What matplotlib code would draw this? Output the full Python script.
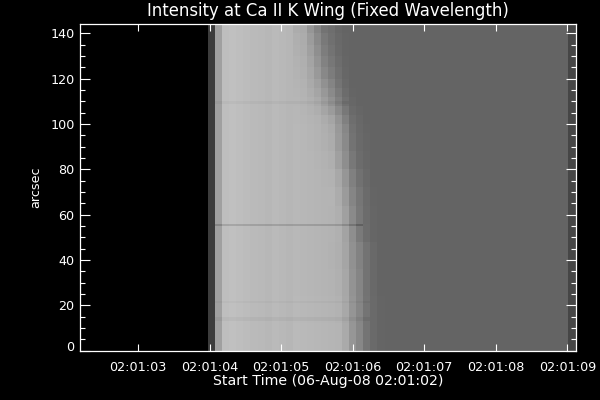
import numpy as np
import matplotlib
matplotlib.use("Agg")
import matplotlib.pyplot as plt
from matplotlib.transforms import ScaledTranslation

#time axis, seconds after 02:01:00
time_ticks = [3, 4, 5, 6, 7, 8, 9]
time_labels = ["02:01:03", "02:01:04", "02:01:05", "02:01:06", "02:01:07", "02:01:08", "02:01:09"]
y_ticks = [0, 20, 40, 60, 80, 100, 120, 140]

#grey levels, one exposure = one column
dark_cols = [0] * 18
rise_cols = [60, 160]
bright_cols = [190, 192, 190, 188, 186, 185, 183, 186, 184, 182]
plateau_cols = [100] * 25
last_cols = [70, 70]

#top of each height band (arcsec)
band_tops = [12, 24, 36, 48, 56, 64, 72, 80, 88, 96, 100, 104, 108, 112, 116, 120, 125, 130, 135, 140, 146]
#falling edge, 14 columns from about 02:01:05.2, lowest band first
falloff = [
    [186, 185, 184, 183, 182, 181, 180, 170, 150, 135, 116, 106, 101, 100],
    [185, 184, 183, 182, 181, 180, 178, 168, 149, 134, 116, 106, 101, 100],
    [184, 183, 182, 181, 180, 179, 176, 167, 147, 133, 115, 105, 100, 100],
    [184, 183, 182, 181, 180, 178, 175, 165, 145, 130, 115, 105, 100, 100],
    [184, 183, 182, 181, 180, 179, 176, 163, 142, 122, 109, 102, 100, 100],
    [184, 183, 182, 181, 180, 179, 175, 160, 138, 120, 108, 102, 100, 100],
    [184, 183, 182, 181, 180, 180, 172, 155, 133, 118, 107, 101, 100, 100],
    [184, 183, 182, 181, 179, 178, 168, 150, 128, 113, 105, 100, 100, 100],
    [184, 183, 182, 180, 178, 175, 160, 142, 120, 108, 103, 100, 100, 100],
    [184, 183, 181, 179, 176, 172, 155, 138, 115, 106, 102, 100, 100, 100],
    [184, 183, 181, 179, 175, 170, 153, 135, 113, 105, 101, 100, 100, 100],
    [183, 182, 180, 178, 172, 165, 148, 128, 110, 104, 100, 100, 100, 100],
    [183, 181, 178, 174, 165, 155, 138, 120, 106, 102, 100, 100, 100, 100],
    [182, 180, 176, 170, 158, 145, 128, 112, 103, 100, 100, 100, 100, 100],
    [181, 179, 173, 165, 152, 138, 122, 108, 101, 100, 100, 100, 100, 100],
    [180, 178, 170, 160, 145, 132, 116, 105, 100, 100, 100, 100, 100, 100],
    [179, 176, 167, 153, 136, 124, 112, 103, 100, 100, 100, 100, 100, 100],
    [178, 175, 164, 148, 130, 119, 109, 102, 100, 100, 100, 100, 100, 100],
    [176, 173, 160, 143, 125, 115, 106, 101, 100, 100, 100, 100, 100, 100],
    [175, 172, 156, 138, 121, 112, 105, 101, 100, 100, 100, 100, 100, 100],
    [172, 170, 150, 132, 115, 110, 103, 100, 100, 100, 100, 100, 100, 100],
]

#thin dark rows across the bright part
line_rows = [13, 14, 21, 55, 109]
line_drops = [7, 7, 5, 26, 6]
line_last_col = [41, 41, 41, 40, 38]

rows = []
for i in range(146):
    band = np.searchsorted(band_tops, i, side="right")
    rows.append(dark_cols + rise_cols + bright_cols + falloff[band] + plateau_cols + last_cols)
img = np.array(rows, dtype=float)
for r, d, c in zip(line_rows, line_drops, line_last_col):
    img[r, 19:c] -= d

xlim = (2.185, 9.122)
ylim = (-0.2, 144.4)
x_edges = 2.2 + 0.0987 * np.arange(img.shape[1] + 1)
y_edges = np.arange(img.shape[0] + 1)

plt.rcParams["font.family"] = ["DejaVu Sans"]
fig = plt.figure(figsize=(6, 4), dpi=100, facecolor="black")
ax = fig.add_axes([80 / 600, 49 / 400, 496 / 600, 327.5 / 400], facecolor="black")
ax.pcolormesh(x_edges, y_edges, img, cmap="gray", vmin=0, vmax=255, antialiased=False)
ax.set_xlim(xlim)
ax.set_ylim(ylim)

ax.set_xticks(time_ticks)
ax.set_xticklabels(time_labels)
ax.set_yticks(y_ticks)
ax.set_yticks([v for v in range(0, 145, 5) if v % 20 != 0], minor=True)
ax.tick_params(axis="x", which="major", direction="in", top=True, length=5, width=0.8,
               color="white", labelcolor="white", labelsize=9.2, pad=7)
ax.tick_params(axis="y", which="major", direction="in", right=True, length=7.5, width=0.8,
               color="white", labelcolor="white", labelsize=9.2, pad=4)
ax.tick_params(axis="y", which="minor", direction="in", right=True, length=3.8, width=0.8, color="white")
for s in ax.spines.values():
    s.set_color("white")
    s.set_linewidth(0.9)

#zero label sits a little above its tick in the original
lab = ax.get_yticklabels()[0]
lab.set_transform(lab.get_transform() + ScaledTranslation(0, 3 / 72, fig.dpi_scale_trans))

fig.text(328 / 600, 1 - 11.5 / 400, "Intensity at Ca II K Wing (Fixed Wavelength)", color="white",
         fontsize=11.9, ha="center", va="center")
fig.text(328.5 / 600, 1 - 381 / 400, "Start Time (06-Aug-08 02:01:02)", color="white",
         fontsize=10.2, ha="center", va="center")
fig.text(36 / 600, 1 - 187 / 400, "arcsec", color="white", fontsize=9.2, rotation=90,
         ha="center", va="center")

fig.savefig("out.png", dpi=100, facecolor="black")
